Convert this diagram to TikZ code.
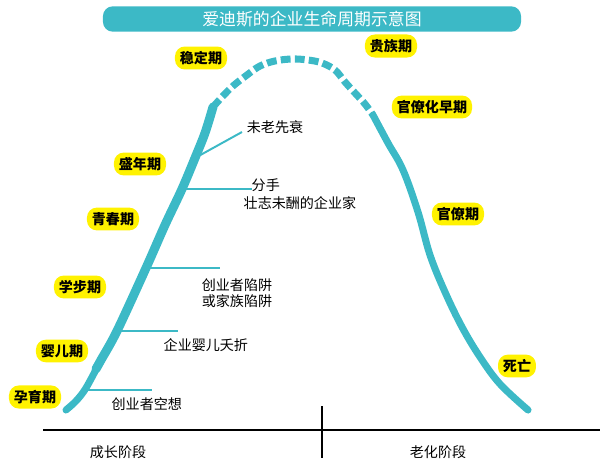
\documentclass[tikz,border=0pt]{standalone}
\usepackage{fontspec}
\setmainfont{Noto Sans CJK SC}
\usepackage{tikz}
\usetikzlibrary{positioning}
\usepackage{xcolor}
\definecolor{LifeTeal}{RGB}{60,185,198}
\definecolor{StageYellow}{RGB}{255,242,0}

\begin{document}
\begin{tikzpicture}[
    x=0.025cm, y=-0.025cm,
    title/.style={rectangle, rounded corners=7pt, fill=LifeTeal, text=white,
        minimum width=10.45cm, minimum height=0.58cm, font=\fontsize{12}{14}\selectfont},
    stage/.style={rectangle, rounded corners=7pt, fill=StageYellow, text=black,
        minimum height=0.55cm, inner xsep=3.5pt, font=\bfseries\fontsize{10}{12}\selectfont},
    trap/.style={font=\fontsize{10}{11.5}\selectfont, text=black, inner sep=1pt},
    life/.style={LifeTeal, line width=6.4pt, line cap=round, line join=round},
    fading/.style={LifeTeal, line width=5pt, dash pattern=on 7pt off 3pt},
    branch/.style={LifeTeal, line width=1.4pt},
    axis/.style={black, line width=1.5pt},
]
\useasboundingbox (0,0) rectangle (600,467);

\node[title] (title) at (312,19) {爱迪斯的企业生命周期示意图};

% growth side
\draw[life, line width=5pt] plot[smooth, tension=0.55] coordinates {(66,410) (76,401) (86,388) (101,360)};
\draw[life] plot[smooth, tension=0.55] coordinates {(96,369) (101,360) (117,331)
    (146,268) (165,225) (182,189) (195,158) (205,133) (213,107)};
% top, broken
\draw[fading] plot[smooth, tension=0.6] coordinates {(213,107) (222,97) (233,86) (247,75) (260,66)
    (275,61) (292,59) (308,60) (322,63) (335,70) (345,82) (355,93) (365,104) (373,115)};
% aging side
\draw[life, line width=5pt] plot[smooth, tension=0.6] coordinates {(373,115) (388,143) (403,170)
    (418,212) (430,255) (445,292) (462,327) (480,357) (500,384) (528,410)};

\coordinate (b1) at (195,158); \coordinate (e1) at (242,132);
\coordinate (b2) at (182,189); \coordinate (e2) at (252,189);
\coordinate (b3) at (146,268); \coordinate (e3) at (220,268);
\coordinate (b4) at (117,331); \coordinate (e4) at (178,331);
\coordinate (b5) at (85,390);  \coordinate (e5) at (152,390);

\draw[branch] (b1) -- (e1);
\draw[branch] (b2) -- (e2);
\draw[branch] (b3) -- (e3);
\draw[branch] (b4) -- (e4);
\draw[branch] (b5) -- (e5);

\node[trap] (early) at (275,127) {未老先衰};
\node[trap, anchor=west] (split) at (250,185) {分手};
\node[trap, anchor=west] (unfulfilled) at (242,203) {壮志未酬的企业家};
\node[trap, align=left] (foundertrap) at (237,293) {创业者陷阱\\或家族陷阱};
\node[trap, anchor=west] (infantdeath) at (162,345) {企业婴儿夭折};
\node[trap, anchor=west] (dream) at (110,404) {创业者空想};

% stages
\node[stage] (courtship) at (35,397) {孕育期};
\node[stage] (infant) at (62,351) {婴儿期};
\node[stage] (gogo) at (80,287) {学步期};
\node[stage] (adolescence) at (113,219) {青春期};
\node[stage] (prime) at (140,164) {盛年期};
\node[stage] (stable) at (201,58) {稳定期};
\node[stage] (aristocracy) at (391,46) {贵族期};
\node[stage] (earlybureau) at (432,107) {官僚化早期};
\node[stage] (bureaucracy) at (458,214) {官僚期};
\node[stage] (death) at (517,366) {死亡};

% axis
\coordinate (axL) at (43,430); \coordinate (axR) at (600,430);
\coordinate (divT) at (322,406); \coordinate (divB) at (322,458);
\draw[axis] (axL) -- (axR);
\draw[axis] (divT) -- (divB);
\node[trap] (growth) at (118,452) {成长阶段};
\node[trap] (aging) at (438,452) {老化阶段};
\end{tikzpicture}
\end{document}
